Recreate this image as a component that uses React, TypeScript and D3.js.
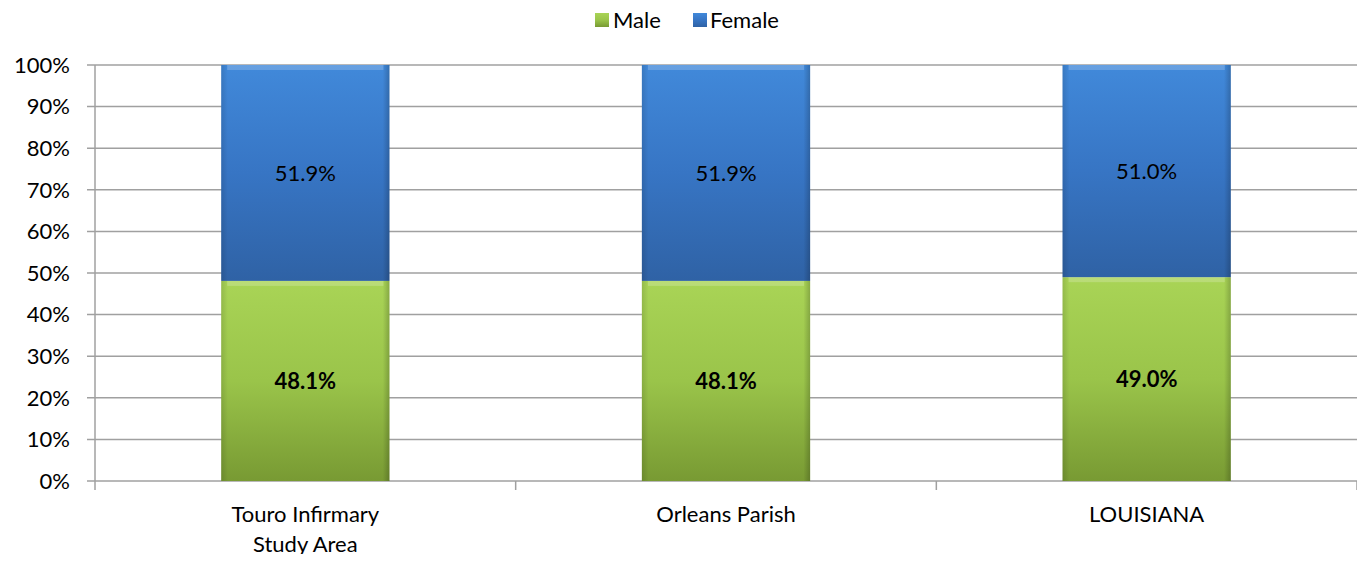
import React from 'react';
import * as d3 from 'd3';

const categories = ['Touro Infirmary\nStudy Area', 'Orleans Parish', 'LOUISIANA'];
const maleValues = [48.1, 48.1, 49.0];
const femaleValues = [51.9, 51.9, 51.0];
const yTicks = [0, 10, 20, 30, 40, 50, 60, 70, 80, 90, 100];

const W = 1365;
const H = 562;
const margin = { top: 65, right: 8, bottom: 81, left: 95 };
const FONT = 'Lato, "Open Sans", sans-serif';
const FS = 22;

export default function App() {
  const x = d3.scaleBand<string>()
    .domain(categories)
    .range([margin.left, W - margin.right])
    .paddingInner(0.6)
    .paddingOuter(0.3);
  const band = d3.scaleBand<string>()
    .domain(categories)
    .range([margin.left, W - margin.right]);
  const y = d3.scaleLinear().domain([0, 100]).range([H - margin.bottom, margin.top]);

  const rows = categories.map((c, i) => ({ c, male: maleValues[i], female: femaleValues[i] }));
  const stack = d3.stack<any>().keys(['male', 'female'])(rows);

  return (
    <div style={{ margin: -8 }}>
      <svg width={W} height={H} style={{ display: 'block', fontFamily: FONT }}>
        <defs>
          <linearGradient id="gMale" x1="0" y1="0" x2="0" y2="1">
            <stop offset="0" stopColor="#a9d456" />
            <stop offset="0.5" stopColor="#9ac44a" />
            <stop offset="1" stopColor="#789a33" />
          </linearGradient>
          <linearGradient id="gFemale" x1="0" y1="0" x2="0" y2="1">
            <stop offset="0" stopColor="#4189da" />
            <stop offset="0.5" stopColor="#3775c4" />
            <stop offset="1" stopColor="#2f62a5" />
          </linearGradient>
          <linearGradient id="gEdge" x1="0" y1="0" x2="1" y2="0">
            <stop offset="0" stopColor="#000" stopOpacity="0.12" />
            <stop offset="0.04" stopColor="#000" stopOpacity="0" />
            <stop offset="0.96" stopColor="#000" stopOpacity="0" />
            <stop offset="1" stopColor="#000" stopOpacity="0.2" />
          </linearGradient>
        </defs>

        {/* gridlines */}
        {yTicks.map(t => (
          <g key={t}>
            <line x1={margin.left - 8} x2={W - margin.right} y1={y(t)} y2={y(t)} stroke="#a0a0a0" strokeWidth={1.5} />
            <text x={70} y={y(t)} dy="0.35em" textAnchor="end" fontSize={FS} fill="#000">{t}%</text>
          </g>
        ))}
        {/* axes */}
        <line x1={margin.left} x2={margin.left} y1={y(100)} y2={y(0) + 9} stroke="#a0a0a0" strokeWidth={1.5} />
        {categories.map(c => (
          <line key={c} x1={(band(c) as number) + band.bandwidth()} x2={(band(c) as number) + band.bandwidth()}
            y1={y(0)} y2={y(0) + 9} stroke="#a0a0a0" strokeWidth={1.5} />
        ))}

        {/* bars */}
        {stack.map(s => s.map((d, i) => {
          const cx = x(categories[i]) as number;
          const bw = x.bandwidth();
          const y0 = y(d[1]);
          const h = y(d[0]) - y(d[1]);
          const val = s.key === 'male' ? maleValues[i] : femaleValues[i];
          return (
            <g key={s.key + i}>
              <rect x={cx} y={y0} width={bw} height={h} fill={s.key === 'male' ? 'url(#gMale)' : 'url(#gFemale)'} />
              <rect x={cx} y={y0} width={bw} height={h} fill="url(#gEdge)" />
              <rect x={cx + 6} y={y0} width={bw - 12} height={5} fill="#fff" opacity={0.2} />
              <text x={cx + bw / 2} y={y0 + h / 2} dy="0.35em" textAnchor="middle" fontSize={FS}
                fontWeight={s.key === 'male' ? 'bold' : 'normal'} fill="#000">{val.toFixed(1)}%</text>
            </g>
          );
        }))}

        {/* category labels */}
        {categories.map(c => {
          const cx = (band(c) as number) + band.bandwidth() / 2;
          return (
            <text key={c} x={cx} y={514} textAnchor="middle" fontSize={FS} fill="#000">
              {c.split('\n').map((line, j) => (
                <tspan key={j} x={cx} dy={j === 0 ? '0.35em' : 30}>{line}</tspan>
              ))}
            </text>
          );
        })}

        {/* legend */}
        <g transform="translate(595,20)">
          <rect x={0} y={-7} width={14} height={14} fill="url(#gMale)" />
          <text x={18} y={0} dy="0.35em" fontSize={FS}>Male</text>
          <rect x={98} y={-7} width={14} height={14} fill="url(#gFemale)" />
          <text x={115} y={0} dy="0.35em" fontSize={FS}>Female</text>
        </g>
      </svg>
    </div>
  );
}
